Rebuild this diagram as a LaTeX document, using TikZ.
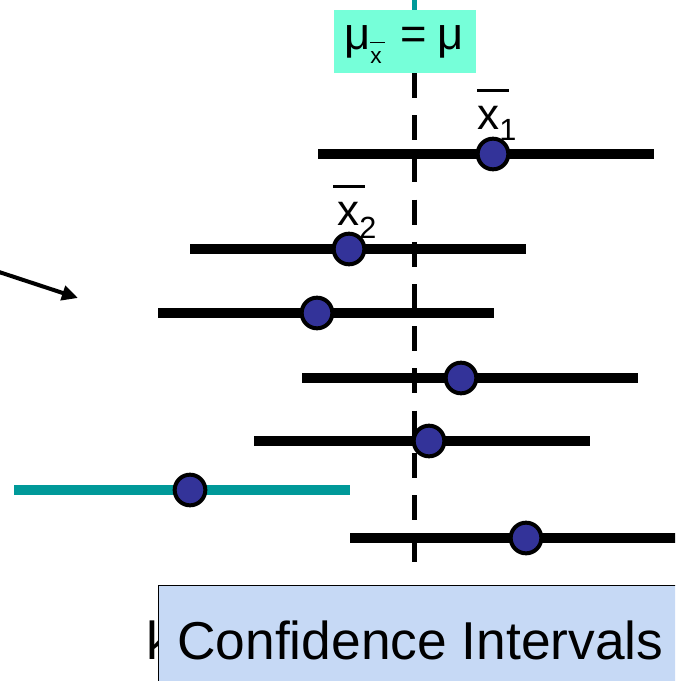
\documentclass[tikz,border=0pt]{standalone}
\usepackage{fontspec}
\setmainfont{Liberation Sans}
\usetikzlibrary{arrows.meta}
\definecolor{dotblue}{HTML}{333399}
\definecolor{cilteal}{HTML}{009999}
\definecolor{mugreen}{HTML}{76FFD9}
\definecolor{ciblue}{HTML}{C6D9F5}
\tikzset{
    cibar/.style={line width=7.5pt},
    cidot/.style={circle,draw=black,line width=3pt,fill=dotblue,minimum size=23pt,inner sep=0pt},
    meanline/.style={line width=3.75pt,dash pattern=on 18.75pt off 12.9pt},
    bigtext/.style={anchor=base west,inner sep=0pt,font=\fontsize{40}{40}\selectfont},
}

\begin{document}
\begin{tikzpicture}[x=0.75pt,y=-0.75pt]
    \clip (0,0) rectangle (675,681);
    \coordinate (Mtop) at (414,-5);
    \coordinate (Mbox) at (414,12);
    \coordinate (Ma) at (414,73);
    \coordinate (Mb) at (414,562);
    \draw[cilteal,line width=3.75pt] (Mtop) -- (Mbox);
    \draw[meanline] (Ma) -- (Mb);
    \node[fill=mugreen,minimum width=106.5pt,minimum height=47.25pt,inner sep=0pt] (mubox) at (405,41.5) {};
    \node[anchor=base,inner sep=0pt,font=\fontsize{34}{34}\selectfont] (mutext) at (404,50)
        {μ\raisebox{-0.3em}{\fontsize{17}{17}\selectfont\rlap{\rule[0.9em]{0.66em}{1.2pt}}x}\hspace{14pt}=\hspace{8pt}μ};
    \foreach \myi/\myy/\mya/\myb/\myd/\mycol in {1/154/318/654/493/black,2/249/190/526/349/black,
        3/313/158/494/317/black,4/378/302/638/461/black,5/441/254/590/429/black,
        6/490/14/350/190/cilteal,7/538/350/700/526/black}{
        \coordinate (L\myi) at (\mya,\myy);
        \coordinate (R\myi) at (\myb,\myy);
        \draw[cibar,\mycol] (L\myi) -- (R\myi);
        \node[cidot] (D\myi) at (\myd,\myy) {};
    }
    \node[anchor=base west,inner sep=0pt,font=\fontsize{33}{33}\selectfont] (xbar1) at (477,130)
        {\rlap{\rule[0.86em]{0.73em}{2.25pt}}x\raisebox{-0.25em}{\fontsize{23}{23}\selectfont 1}};
    \node[anchor=base west,inner sep=0pt,font=\fontsize{33}{33}\selectfont] (xbar2) at (337,225)
        {\rlap{\hspace{-3pt}\rule[0.85em]{0.73em}{2.25pt}}x\raisebox{-0.3em}{\fontsize{23}{23}\selectfont 2}};
    \coordinate (A0) at (-4,271);
    \coordinate (A1) at (78,298);
    \draw[line width=3pt,-{Triangle[length=12pt,width=11pt]}] (A0) -- (A1);
    \node[bigtext] (hidden) at (146,659) {k};
    \node[draw=black,line width=0.9pt,fill=ciblue,anchor=north west,minimum width=406.5pt,minimum height=90pt] (cibox) at (158,585) {};
    \node[bigtext] (cititle) at (177,659) {Confidence Intervals};
\end{tikzpicture}
\end{document}
